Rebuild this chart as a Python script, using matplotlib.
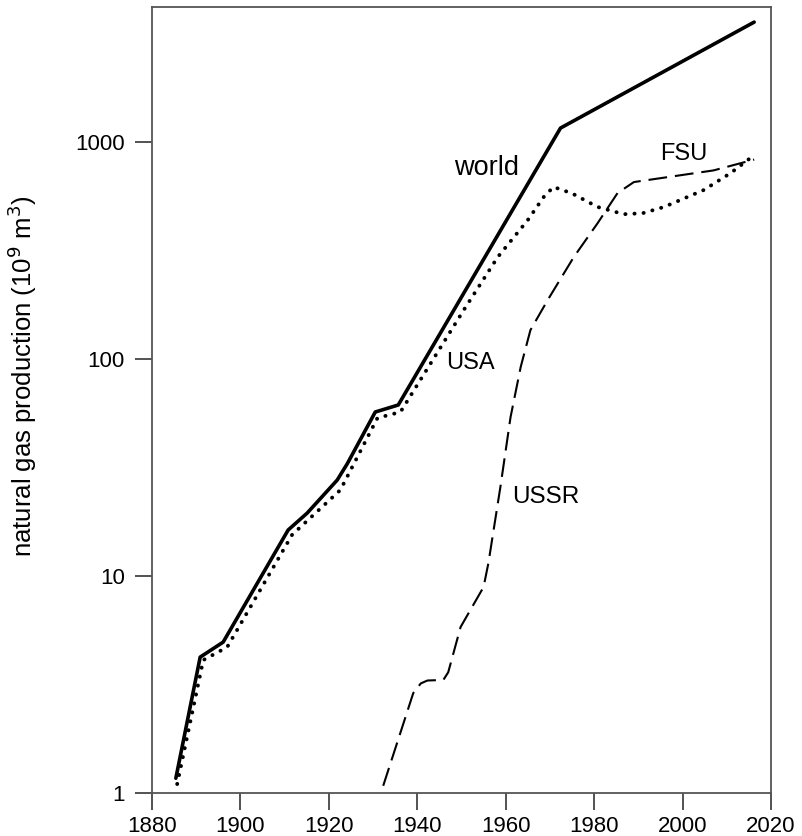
import numpy as np
import matplotlib
matplotlib.use("Agg")
import matplotlib.pyplot as plt
from matplotlib.ticker import FixedLocator, NullLocator

plt.rcParams['font.family'] = ['Liberation Sans', 'DejaVu Sans']

# world production (1e9 m3)
world_yr = [1885.4, 1890.9, 1896.1, 1910.8, 1915.1, 1921.9, 1924.2, 1930.5, 1935.7, 1972.4, 2016.2]
world_v = [1.17, 4.23, 4.96, 16.3, 19.5, 27.7, 33.0, 57.0, 61.4, 1160, 3570]

# USA
usa_yr = [1885.7, 1891.6, 1897.0, 1911.7, 1922.6, 1931.0, 1936.2, 1950.5, 1958.2, 1965.0,
          1968.6, 1970.8, 1975.0, 1980.8, 1986.7, 1991.0, 1995.8, 2004.8, 2010.9, 2016.2]
usa_v = [1.1, 4.1, 4.7, 15.5, 24.9, 53.5, 57.0, 168, 295, 437,
         558, 621, 580, 502, 465, 470, 502, 601, 720, 870]

# USSR / FSU
fsu_yr = [1932.3, 1939.1, 1940.8, 1942.3, 1945.9, 1947.0, 1949.8, 1955.0, 1956.1, 1958.8,
          1961.1, 1963.4, 1965.6, 1969.5, 1975.4, 1980.8, 1985.3, 1989.0, 2007.0, 2016.2]
fsu_v = [1.08, 2.89, 3.2, 3.3, 3.32, 3.6, 5.82, 8.9, 11.5, 25.7,
         54.0, 92.0, 136, 187, 295, 423, 582, 654, 740, 830]

yticks = [1, 10, 100, 1000]
xticks = np.arange(1880, 2021, 20)

fig = plt.figure(figsize=(8.02, 8.36), dpi=100)
ax = fig.add_axes([0.1895, 0.0514, 0.7718, 0.9402])

ax.plot(world_yr, world_v, color='black', lw=2.6, solid_capstyle='round', solid_joinstyle='round')
ax.plot(usa_yr, usa_v, color='black', lw=2.8, linestyle=(0, (0.05, 2.3)), dash_capstyle='round')
ax.plot(fsu_yr, fsu_v, color='black', lw=1.5, linestyle=(0, (9.0, 3.8)))

ax.text(1955.7, 759, 'world', fontsize=19.5, ha='center', va='center')
ax.text(1952.0, 96, 'USA', fontsize=17, ha='center', va='center')
ax.text(1969.0, 23.1, 'USSR', fontsize=17.5, ha='center', va='center')
ax.text(2000.3, 880, 'FSU', fontsize=17, ha='center', va='center')

ax.set_yscale('log')
ax.set_xlim(1880, 2020)
ax.set_ylim(1, 4190)
ax.yaxis.set_major_locator(FixedLocator(yticks))
ax.yaxis.set_minor_locator(NullLocator())
ax.set_yticklabels([str(t) for t in yticks])
ax.set_xticks(xticks)

for s in ax.spines.values():
    s.set_color('#555555')
    s.set_linewidth(1.3)
ax.tick_params(direction='out', length=12.5, width=1.3, color='#444444', labelsize=16)
ax.tick_params(axis='x', pad=4)
ax.tick_params(axis='y', pad=7)

ax.set_ylabel('natural gas production (10$^9$ m$^3$)', fontsize=18.5)
ax.yaxis.set_label_coords(-0.183, 0.5305)

fig.savefig('out.png', dpi=100)
